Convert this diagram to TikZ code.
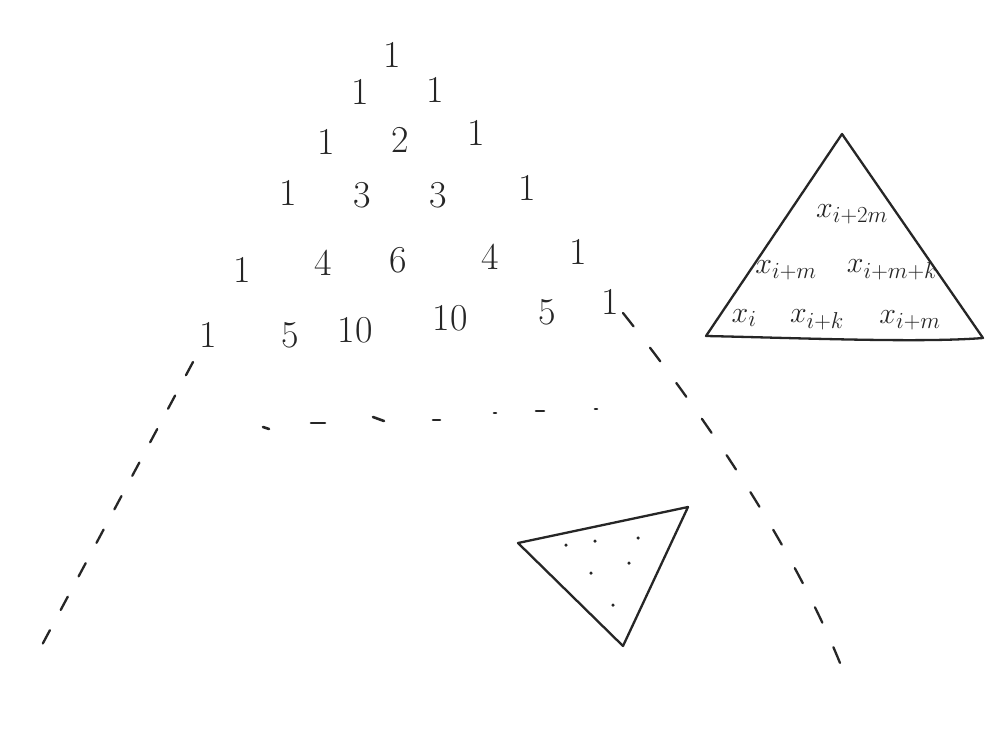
\RequirePackage{fix-cm}
\documentclass[tikz,border=0pt]{standalone}
\usetikzlibrary{calc}
\DeclareMathSizes{30}{30}{23}{18}
\begin{document}
\begin{tikzpicture}[x=1pt,y=-1pt,
  ink/.style={line width=2.3pt, line cap=round, line join=round, black!85},
  num/.style={inner sep=0pt, font=\fontsize{38}{38}\selectfont, black!85},
  lab/.style={inner sep=0pt, font=\fontsize{30}{30}\selectfont, black!85},
  dashleft/.style={ink, dash pattern=on 15pt off 23pt},
  dashright/.style={ink, dash pattern=on 17pt off 27pt},
  tick/.style={ink, line width=2.6pt},
  dot/.style={circle, fill=black!85, inner sep=0pt, minimum size=3.5pt}]
\useasboundingbox (0,0) rectangle (1001,731);
\fill[white] (0,0) rectangle (1001,731);

% Pascal triangle
\node[num] (p00) at (392,55) {1};
\node[num] (p10) at (360,92) {1};
\node[num] (p11) at (435,90) {1};
\node[num] (p20) at (326,142) {1};
\node[num] (p21) at (400,140) {2};
\node[num] (p22) at (476,133) {1};
\node[num] (p30) at (288,193) {1};
\node[num] (p31) at (362,195) {3};
\node[num] (p32) at (438,195) {3};
\node[num] (p33) at (527,188) {1};
\node[num] (p40) at (242,270) {1};
\node[num] (p41) at (323,263) {4};
\node[num] (p42) at (398,260) {6};
\node[num] (p43) at (490,257) {4};
\node[num] (p44) at (578,252) {1};
\node[num] (p50) at (208,335) {1};
\node[num] (p51) at (290,335) {5};
\node[num] (p52) at (355,330) {10};
\node[num] (p53) at (450,318) {10};
\node[num] (p54) at (547,312) {5};
\node[num] (p55) at (610,302) {1};

% left dashed boundary
\coordinate (l1) at (193,362);
\coordinate (l2) at (42,645);
\draw[dashleft] (l1) -- (l2);

% right dashed boundary
\coordinate (r1) at (623,313);
\coordinate (r2) at (840,663);
\draw[dashright] (r1) .. controls (700,410) and (790,540) .. (r2);

% dotted row
\coordinate (d1a) at (263,427); \coordinate (d1b) at (269,429);
\coordinate (d2a) at (311,423); \coordinate (d2b) at (325,423);
\coordinate (d3a) at (373,417); \coordinate (d3b) at (384,421);
\coordinate (d4a) at (433,420); \coordinate (d4b) at (440,420);
\coordinate (d5a) at (494,413); \coordinate (d5b) at (496,413);
\coordinate (d6a) at (536,411); \coordinate (d6b) at (544,411);
\coordinate (d7a) at (595,409); \coordinate (d7b) at (597,409);
\foreach \i in {1,...,7}{\draw[tick] (d\i a) -- (d\i b);}

% small triangle with dots
\coordinate (s1) at (518,543);
\coordinate (s2) at (688,507);
\coordinate (s3) at (623,646);
\draw[ink] (s1) -- (s2) -- (s3) -- cycle;
\node[dot] (sd1) at (566,545) {};
\node[dot] (sd2) at (595,541) {};
\node[dot] (sd3) at (638,538) {};
\node[dot] (sd4) at (591,573) {};
\node[dot] (sd5) at (629,563) {};
\node[dot] (sd6) at (613,605) {};

% big triangle with labels
\coordinate (b1) at (842,134);
\coordinate (b2) at (706,336);
\coordinate (b3) at (983,338);
\draw[ink] (b1) -- (b2) .. controls (800,338) and (920,343) .. (b3) -- cycle;
\node[lab] (x1) at (852,214) {$x_{i+2m}$};
\node[lab] (x2) at (786,270) {$x_{i+m}$};
\node[lab] (x3) at (892,270) {$x_{i+m+k}$};
\node[lab] (x4) at (744,318) {$x_{i}$};
\node[lab] (x5) at (817,320) {$x_{i+k}$};
\node[lab] (x6) at (910,320) {$x_{i+m}$};
\end{tikzpicture}
\end{document}
